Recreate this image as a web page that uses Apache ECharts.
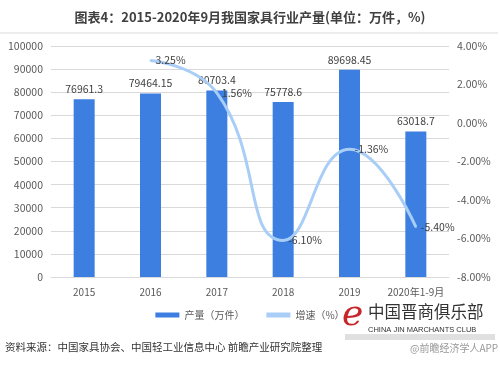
<!DOCTYPE html>
<html><head><meta charset="utf-8">
<script src="https://cdn.jsdelivr.net/npm/echarts@6/dist/echarts.min.js"></script>
<style>html,body{margin:0;padding:0;background:#fff}#c{width:500px;height:365px}</style>
</head><body><div id="c"></div>
<script>
var categories = ['2015','2016','2017','2018','2019','2020年1-9月'];
var output = [76961.3, 79464.15, 80703.4, 75778.6, 89698.45, 63018.7];
var growth = ['-', 3.25, 1.56, -6.10, -1.36, -5.40];
var leftTicks = {min: 0, max: 100000, interval: 10000};
var rightTicks = {min: -8, max: 4, interval: 2};
var FONT = '"Microsoft YaHei","Noto Sans CJK SC",sans-serif';
var chart = echarts.init(document.getElementById('c'), null, {renderer: 'canvas'});
chart.setOption({
  animation: false,
  textStyle: {fontFamily: FONT},
  title: {
    text: '图表4：2015-2020年9月我国家具行业产量(单位：万件，%)',
    left: 'center', top: 6,
    textStyle: {fontSize: 13, fontWeight: 'bold', color: '#404040', fontFamily: FONT}
  },
  grid: {left: 51, right: 51, top: 46, bottom: 88},
  legend: {
    bottom: 40, left: 'center', itemGap: 22, itemWidth: 24, itemHeight: 5,
    textStyle: {fontSize: 10, color: '#595959', fontFamily: FONT},
    data: [{name: '产量（万件）', icon: 'rect'}, {name: '增速（%）', icon: 'rect', itemStyle: {color: '#a8cdf6', opacity: 1}}]
  },
  xAxis: {
    type: 'category', data: categories,
    axisLine: {lineStyle: {color: '#d9d9d9'}},
    axisTick: {show: false},
    axisLabel: {color: '#595959', fontSize: 10, margin: 10, interval: 0}
  },
  yAxis: [{
    type: 'value', min: leftTicks.min, max: leftTicks.max, interval: leftTicks.interval,
    axisLabel: {color: '#595959', fontSize: 10.5, margin: 8, formatter: function (v) { return String(v); }},
    splitLine: {lineStyle: {color: '#d9d9d9'}},
    axisLine: {show: false}, axisTick: {show: false}
  }, {
    type: 'value', min: rightTicks.min, max: rightTicks.max, interval: rightTicks.interval,
    axisLabel: {color: '#595959', fontSize: 10.5, margin: 8, formatter: function (v) { return v.toFixed(2) + '%'; }},
    splitLine: {show: false}, axisLine: {show: false}, axisTick: {show: false}
  }],
  series: [{
    name: '产量（万件）', type: 'bar', data: output, barWidth: 21,
    itemStyle: {color: '#3c7fe0'},
    label: {show: true, position: 'top', color: '#404040', fontSize: 10.5, distance: 5}
  }, {
    name: '增速（%）', type: 'line', yAxisIndex: 1, data: growth, smooth: 0.5,
    symbol: 'circle', symbolSize: 2, showSymbol: true,
    lineStyle: {color: '#a8cdf6', width: 3}, itemStyle: {color: '#a8cdf6'},
    label: {show: true, position: 'right', color: '#404040', fontSize: 10.5, distance: 4,
      formatter: function (p) { return Number(p.value).toFixed(2) + '%'; }}
  }],
  graphic: [
    {type: 'line', shape: {x1: 0, y1: 33, x2: 498, y2: 33}, style: {stroke: '#d9d9d9', lineWidth: 1}},
    {type: 'text', left: 5, top: 342, style: {text: '资料来源：中国家具协会、中国轻工业信息中心 前瞻产业研究院整理', fontSize: 10.5, fill: '#333', fontFamily: FONT}},
    {type: 'rect', shape: {x: 345, y: 334, width: 150, height: 6}, style: {fill: 'rgba(0,0,0,0.12)'}},
    {type: 'text', left: 342, top: 298, style: {text: 'e', fontSize: 36, fontStyle: 'italic', fill: '#c8262b', fontFamily: 'DejaVu Serif'}},
    {type: 'text', left: 368, top: 303, style: {text: '中国晋商俱乐部', fontSize: 16.5, fill: '#333', fontFamily: FONT}},
    {type: 'text', left: 368, top: 326, style: {text: 'CHINA JIN MARCHANTS CLUB', fontSize: 7.5, fill: '#333', fontFamily: 'Liberation Sans'}},
    {type: 'text', left: 410, top: 343, style: {text: '@前瞻经济学人APP', fontSize: 10, fill: '#999', fontFamily: FONT}}
  ]
});
</script></body></html>
